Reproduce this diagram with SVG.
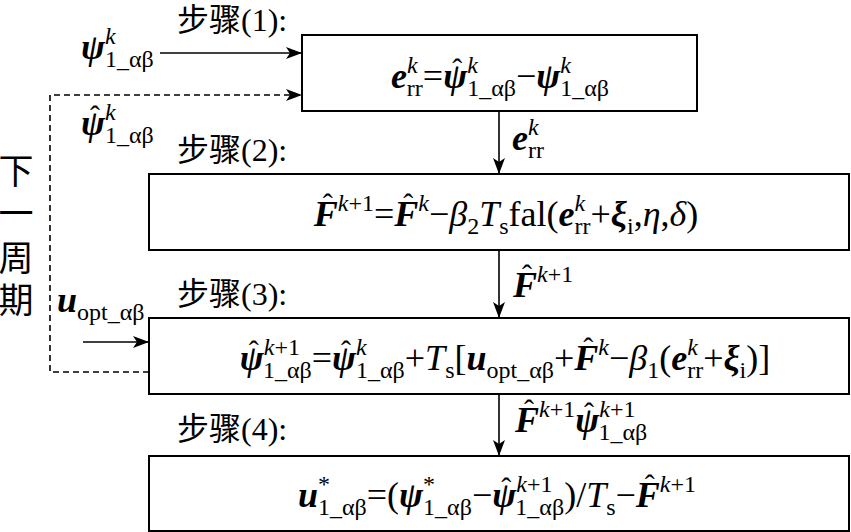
<svg xmlns="http://www.w3.org/2000/svg" width="851" height="532" viewBox="0 0 851 532">
<defs>
<marker id="arr" markerUnits="userSpaceOnUse" markerWidth="16" markerHeight="12" refX="16" refY="6" orient="auto">
<path d="M0,0 L16,6 L0,12 L4,6 Z" fill="#000"/>
</marker>
<style>
.box{fill:#fff;stroke:#000;stroke-width:2}
.ln{fill:none;stroke:#000;stroke-width:1.6;marker-end:url(#arr)}
.dash{fill:none;stroke:#000;stroke-width:1.6;stroke-dasharray:6 4;marker-end:url(#arr)}
.m{font-family:"Liberation Serif",serif;font-size:36px;fill:#000}
.step{font-family:"Liberation Serif",serif;font-size:32px;fill:#000}
.zh{font-family:"Noto Sans CJK SC",sans-serif}
.cjk{font-family:"Noto Sans CJK SC",sans-serif;font-size:35px;fill:#000}
.bi{font-weight:bold;font-style:italic}
.i{font-style:italic}
.s{font-size:24px}
.h{font-size:30px}
.hat{font-family:"Liberation Serif",serif;font-size:30px;fill:#000}
</style>
</defs>
<g id="connectors">
<line class="ln" x1="160" y1="53" x2="302" y2="53"/>
<path class="dash" d="M149,372 H50 V95 H302"/>
<line class="ln" x1="83" y1="342" x2="149" y2="342"/>
<line class="ln" x1="499" y1="111" x2="499" y2="174"/>
<line class="ln" x1="499" y1="250" x2="499" y2="318"/>
<line class="ln" x1="499" y1="394" x2="499" y2="456"/>
</g>
<g id="labels">
<text class="m" x="81" y="59"><tspan class="bi">ψ</tspan><tspan class="s i" dy="-15">k</tspan><tspan class="s" dx="-10.7" dy="23">1_αβ</tspan></text>
<text class="m" x="81" y="135"><tspan class="bi">ψ</tspan><tspan class="s i" dy="-15">k</tspan><tspan class="s" dx="-10.7" dy="23">1_αβ</tspan></text>
<text class="hat" x="90" y="126">ˆ</text>
<text class="m" x="512" y="150"><tspan class="bi">e</tspan><tspan class="s i" dy="-15">k</tspan><tspan class="s" dx="-10.7" dy="23">rr</tspan></text>
<text class="m" x="513" y="297"><tspan class="bi">F</tspan><tspan class="s" dy="-15"><tspan class="i">k</tspan>+1</tspan></text>
<text class="hat" x="522" y="285">ˆ</text>
<text class="m" x="57" y="312"><tspan class="bi">u</tspan><tspan class="s" dy="8">opt_αβ</tspan></text>
<text class="m" x="515" y="432"><tspan class="bi">F</tspan><tspan class="s" dy="-15"><tspan class="i">k</tspan>+1</tspan><tspan class="bi" dy="15">ψ</tspan><tspan class="s" dy="-15"><tspan class="i">k</tspan>+1</tspan><tspan class="s" dx="-36.2" dy="23">1_αβ</tspan></text>
<text class="hat" x="524" y="420">ˆ</text>
<text class="hat" x="584" y="423">ˆ</text>
<text class="step" x="177" y="31"><tspan class="zh">步骤</tspan><tspan>(1):</tspan></text>
<text class="step" x="177" y="161"><tspan class="zh">步骤</tspan><tspan>(2):</tspan></text>
<text class="step" x="177" y="305"><tspan class="zh">步骤</tspan><tspan>(3):</tspan></text>
<text class="step" x="177" y="440"><tspan class="zh">步骤</tspan><tspan>(4):</tspan></text>
<text class="cjk" text-anchor="middle" x="16" y="184">下</text>
<text class="cjk" text-anchor="middle" x="16" y="226">一</text>
<text class="cjk" text-anchor="middle" x="16" y="271">周</text>
<text class="cjk" text-anchor="middle" x="16" y="313">期</text>
</g>
<g id="step1">
<rect class="box" x="302" y="35" width="395" height="76"/>
<text class="m" x="500" y="88" text-anchor="middle"><tspan class="bi">e</tspan><tspan class="s i" dy="-15">k</tspan><tspan class="s" dx="-10.7" dy="23">rr</tspan><tspan dy="-8">=</tspan><tspan class="h" dx="9" dy="-9">ˆ</tspan><tspan class="bi" dx="-19" dy="9">ψ</tspan><tspan class="s i" dy="-15">k</tspan><tspan class="s" dx="-10.7" dy="23">1_αβ</tspan><tspan dy="-8">−</tspan><tspan class="bi">ψ</tspan><tspan class="s i" dy="-15">k</tspan><tspan class="s" dx="-10.7" dy="23">1_αβ</tspan></text>
</g>
<g id="step2">
<rect class="box" x="149" y="174" width="700" height="76"/>
<text class="m" x="497" y="226" text-anchor="middle"><tspan class="h" dx="9" dy="-12">ˆ</tspan><tspan class="bi" dx="-19" dy="12">F</tspan><tspan class="s" dy="-15"><tspan class="i">k</tspan>+1</tspan><tspan dy="15">=</tspan><tspan class="h" dx="9" dy="-12">ˆ</tspan><tspan class="bi" dx="-19" dy="12">F</tspan><tspan class="s i" dy="-15">k</tspan><tspan dy="15">−</tspan><tspan class="i">β</tspan><tspan class="s" dy="8">2</tspan><tspan class="i" dy="-8">T</tspan><tspan class="s" dy="8">s</tspan><tspan dy="-8">fal(</tspan><tspan class="bi">e</tspan><tspan class="s i" dy="-15">k</tspan><tspan class="s" dx="-10.7" dy="23">rr</tspan><tspan dy="-8">+</tspan><tspan class="bi">ξ</tspan><tspan class="s" dy="8">i</tspan><tspan dy="-8">,</tspan><tspan class="i">η</tspan>,<tspan class="i">δ</tspan>)</text>
</g>
<g id="step3">
<rect class="box" x="149" y="318" width="700" height="76"/>
<text class="m" x="496" y="370" text-anchor="middle"><tspan class="h" dx="9" dy="-9">ˆ</tspan><tspan class="bi" dx="-19" dy="9">ψ</tspan><tspan class="s" dy="-15"><tspan class="i">k</tspan>+1</tspan><tspan class="s" dx="-36.2" dy="23">1_αβ</tspan><tspan dy="-8">=</tspan><tspan class="h" dx="9" dy="-9">ˆ</tspan><tspan class="bi" dx="-19" dy="9">ψ</tspan><tspan class="s i" dy="-15">k</tspan><tspan class="s" dx="-10.7" dy="23">1_αβ</tspan><tspan dy="-8">+</tspan><tspan class="i">T</tspan><tspan class="s" dy="8">s</tspan><tspan dy="-8">[</tspan><tspan class="bi">u</tspan><tspan class="s" dy="8">opt_αβ</tspan><tspan dy="-8">+</tspan><tspan class="h" dx="9" dy="-12">ˆ</tspan><tspan class="bi" dx="-19" dy="12">F</tspan><tspan class="s i" dy="-15">k</tspan><tspan dy="15">−</tspan><tspan class="i">β</tspan><tspan class="s" dy="8">1</tspan><tspan dy="-8">(</tspan><tspan class="bi">e</tspan><tspan class="s i" dy="-15">k</tspan><tspan class="s" dx="-10.7" dy="23">rr</tspan><tspan dy="-8">+</tspan><tspan class="bi">ξ</tspan><tspan class="s" dy="8">i</tspan><tspan dy="-8">)]</tspan></text>
</g>
<g id="step4">
<rect class="box" x="149" y="456" width="700" height="75"/>
<text class="m" x="497" y="507" text-anchor="middle"><tspan class="bi">u</tspan><tspan class="s" dy="-15">*</tspan><tspan class="s" dx="-12" dy="23">1_αβ</tspan><tspan dy="-8">=(</tspan><tspan class="bi">ψ</tspan><tspan class="s" dy="-15">*</tspan><tspan class="s" dx="-12" dy="23">1_αβ</tspan><tspan dy="-8">−</tspan><tspan class="h" dx="9" dy="-9">ˆ</tspan><tspan class="bi" dx="-19" dy="9">ψ</tspan><tspan class="s" dy="-15"><tspan class="i">k</tspan>+1</tspan><tspan class="s" dx="-36.2" dy="23">1_αβ</tspan><tspan dy="-8">)/</tspan><tspan class="i">T</tspan><tspan class="s" dy="8">s</tspan><tspan dy="-8">−</tspan><tspan class="h" dx="9" dy="-12">ˆ</tspan><tspan class="bi" dx="-19" dy="12">F</tspan><tspan class="s" dy="-15"><tspan class="i">k</tspan>+1</tspan></text>
</g>
</svg>
